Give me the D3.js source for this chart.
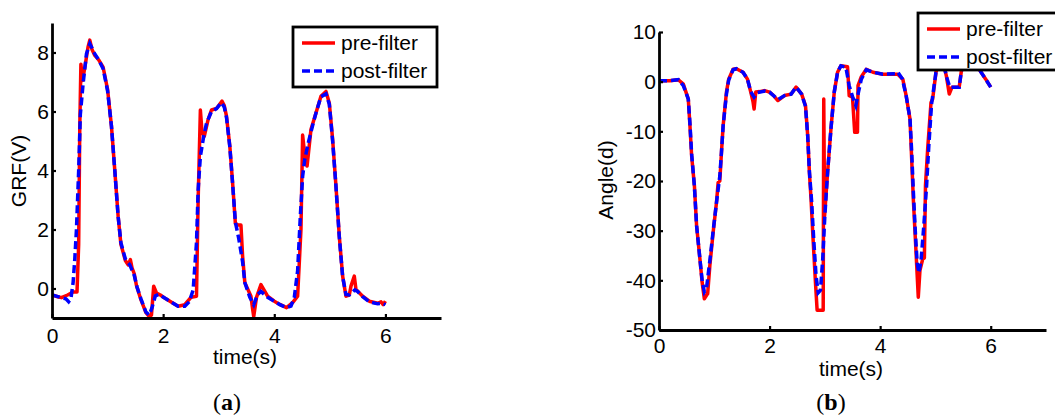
<!DOCTYPE html>
<html>
<head>
<meta charset="utf-8">
<script src="https://cdn.jsdelivr.net/npm/d3@7"></script>
<style>
  html, body { margin: 0; padding: 0; background: #fff; }
  svg { display: block; }
  text { font-family: "Liberation Sans", Arial, sans-serif; fill: #000; }
</style>
</head>
<body>
<svg id="chart" width="1055" height="415"></svg>
<script>
// ---- data: [time (s), value] ----
const grfPre = [[0,-0.22],[0.1,-0.28],[0.17,-0.31],[0.28,-0.22],[0.38,-0.12],[0.45,-0.12],[0.48,1.5],[0.5,5.5],[0.52,7.6],[0.55,7.05],[0.6,7.6],[0.65,8.2],[0.68,8.42],[0.72,8.1],[0.77,7.9],[0.84,7.75],[0.92,7.5],[1.0,6.75],[1.07,5.5],[1.13,4.0],[1.19,2.45],[1.24,1.5],[1.32,0.95],[1.37,0.8],[1.41,0.98],[1.44,0.7],[1.48,0.5],[1.52,0.1],[1.6,-0.38],[1.69,-0.82],[1.75,-0.95],[1.79,-0.9],[1.83,0.08],[1.88,-0.15],[1.95,-0.22],[2.05,-0.35],[2.18,-0.5],[2.27,-0.6],[2.39,-0.55],[2.5,-0.3],[2.6,-0.26],[2.63,3.0],[2.67,6.05],[2.7,5.3],[2.74,5.16],[2.81,5.73],[2.87,6.05],[2.96,6.1],[3.06,6.35],[3.1,6.2],[3.14,5.84],[3.2,4.82],[3.25,3.58],[3.3,2.2],[3.35,2.15],[3.4,2.15],[3.43,1.1],[3.47,0.2],[3.58,-0.26],[3.61,-0.7],[3.63,-0.95],[3.68,-0.3],[3.76,0.13],[3.88,-0.26],[4.0,-0.43],[4.1,-0.54],[4.22,-0.65],[4.33,-0.48],[4.42,-0.26],[4.48,2.0],[4.51,5.2],[4.55,4.5],[4.59,4.15],[4.66,5.39],[4.75,5.95],[4.84,6.52],[4.93,6.68],[4.99,6.29],[5.05,5.05],[5.11,3.47],[5.17,1.77],[5.23,0.42],[5.29,-0.26],[5.35,-0.22],[5.38,0.08],[5.44,0.42],[5.47,-0.03],[5.59,-0.26],[5.71,-0.43],[5.86,-0.5],[5.92,-0.45],[5.96,-0.55],[6.0,-0.43]];
const grfPost = [[0,-0.22],[0.15,-0.3],[0.25,-0.35],[0.3,-0.45],[0.34,-0.35],[0.38,0.2],[0.41,1.0],[0.44,2.0],[0.48,4.0],[0.51,5.9],[0.56,6.95],[0.62,7.95],[0.68,8.3],[0.72,8.15],[0.77,7.95],[0.84,7.75],[0.92,7.45],[1.0,6.7],[1.07,5.5],[1.13,4.0],[1.19,2.45],[1.24,1.55],[1.32,1.0],[1.4,0.8],[1.48,0.45],[1.53,0.05],[1.6,-0.35],[1.69,-0.8],[1.75,-0.9],[1.8,-0.65],[1.86,-0.25],[1.92,-0.2],[2.05,-0.35],[2.18,-0.5],[2.27,-0.6],[2.39,-0.6],[2.47,-0.45],[2.54,-0.05],[2.6,1.55],[2.63,3.35],[2.67,4.48],[2.73,5.16],[2.78,5.6],[2.87,6.0],[2.96,6.1],[3.05,6.3],[3.1,6.15],[3.14,5.8],[3.2,4.8],[3.25,3.55],[3.3,2.25],[3.36,1.7],[3.43,0.9],[3.47,0.2],[3.56,-0.3],[3.63,-0.55],[3.7,-0.2],[3.76,-0.1],[3.88,-0.3],[4.0,-0.43],[4.1,-0.55],[4.22,-0.65],[4.3,-0.6],[4.36,-0.3],[4.42,0.6],[4.47,2.5],[4.51,3.8],[4.55,4.4],[4.62,5.0],[4.7,5.6],[4.75,5.95],[4.84,6.5],[4.93,6.6],[4.99,6.25],[5.05,5.0],[5.11,3.45],[5.17,1.75],[5.23,0.4],[5.29,-0.2],[5.35,-0.22],[5.45,-0.05],[5.5,-0.1],[5.59,-0.28],[5.71,-0.45],[5.86,-0.52],[5.95,-0.5],[6.0,-0.55]];

const anglePre = [[0,0.2],[0.2,0.2],[0.35,0.4],[0.44,-0.5],[0.5,-2.5],[0.53,-3.5],[0.56,-8.9],[0.59,-14.9],[0.64,-20.9],[0.68,-29],[0.74,-35.7],[0.78,-40.4],[0.82,-43.7],[0.86,-43],[0.88,-42.7],[0.92,-37],[0.98,-30.3],[1.04,-24.3],[1.07,-20.3],[1.1,-20],[1.13,-14.2],[1.16,-8.9],[1.22,-2.1],[1.26,0.5],[1.34,2.5],[1.4,2.6],[1.52,1.9],[1.6,0.5],[1.66,-2.1],[1.7,-4],[1.72,-5.5],[1.75,-2.1],[1.82,-2.0],[1.91,-1.8],[2.0,-2.1],[2.08,-2.9],[2.15,-3.8],[2.27,-2.8],[2.39,-2.5],[2.48,-1.1],[2.58,-2.5],[2.65,-4.8],[2.69,-10.9],[2.72,-18.2],[2.75,-23.6],[2.78,-30.3],[2.83,-40.4],[2.86,-46],[2.97,-46],[2.98,-3.5],[2.995,-27],[3.05,-18.2],[3.11,-9.5],[3.17,-2.1],[3.23,1.9],[3.29,3.2],[3.35,3.1],[3.41,3.0],[3.44,-2.8],[3.5,-3.1],[3.54,-10.2],[3.59,-10.2],[3.6,-0.8],[3.66,1.0],[3.75,2.5],[3.87,1.9],[4.05,1.5],[4.32,1.5],[4.41,0.5],[4.47,-2.8],[4.54,-7.5],[4.57,-15.5],[4.6,-23.6],[4.64,-32.3],[4.67,-39],[4.69,-43.4],[4.72,-38],[4.77,-35.7],[4.8,-35.5],[4.82,-20.9],[4.86,-13.5],[4.92,-4.2],[4.95,-3.5],[5.01,1.9],[5.07,3.8],[5.15,3.5],[5.2,1.0],[5.25,-2.5],[5.3,-1.1],[5.43,-1.1],[5.47,2.2],[5.55,3.5],[5.7,3.2],[5.79,2.5],[5.91,0.5],[6.0,-1.1]];
const anglePost = [[0,0.2],[0.2,0.2],[0.35,0.4],[0.44,-0.8],[0.53,-3.5],[0.56,-8.5],[0.59,-14.5],[0.64,-21],[0.68,-29],[0.74,-35.7],[0.78,-40],[0.82,-42.3],[0.86,-41.5],[0.92,-36],[0.98,-30],[1.04,-24.3],[1.1,-19],[1.13,-14.2],[1.16,-8.9],[1.22,-2.5],[1.26,0.3],[1.34,2.4],[1.4,2.6],[1.52,1.9],[1.6,0.5],[1.66,-2.0],[1.72,-3.1],[1.78,-2.2],[1.91,-1.9],[2.0,-2.1],[2.08,-2.9],[2.15,-3.6],[2.27,-2.8],[2.39,-2.5],[2.48,-1.1],[2.58,-2.5],[2.65,-5],[2.69,-11],[2.72,-18],[2.76,-24],[2.8,-32],[2.84,-39],[2.88,-42.5],[2.92,-42],[2.96,-36],[3.0,-27],[3.05,-18.2],[3.11,-9.5],[3.17,-2.1],[3.23,1.9],[3.29,3.2],[3.38,2.9],[3.44,-0.8],[3.5,-3],[3.56,-4.8],[3.61,-2],[3.66,0.5],[3.75,2.4],[3.87,1.9],[4.05,1.5],[4.28,1.6],[4.32,1.9],[4.4,0.6],[4.47,-2.8],[4.54,-7.5],[4.57,-14],[4.6,-22],[4.64,-31],[4.67,-36.5],[4.7,-38.5],[4.74,-36],[4.79,-29],[4.84,-21],[4.88,-13],[4.93,-4.5],[5.01,1.9],[5.07,3.8],[5.15,3.5],[5.2,1.0],[5.26,-1.1],[5.43,-1.1],[5.47,2.2],[5.55,3.5],[5.7,3.2],[5.79,2.5],[5.91,0.5],[6.0,-1.1]];

const timeTicks = [0, 2, 4, 6];
const grfTicks = [0, 2, 4, 6, 8];
const angleTicks = [-50, -40, -30, -20, -10, 0, 10];
const seriesNames = ["pre-filter", "post-filter"];

const svg = d3.select("#chart");
const tickText = d => String(d);   // plain hyphen for negatives

function panel(cfg) {
  const x = d3.scaleLinear().domain(cfg.xDomain).range(cfg.xRange);
  const y = d3.scaleLinear().domain(cfg.yDomain).range(cfg.yRange);
  const g = svg.append("g");

  g.append("clipPath").attr("id", cfg.id + "-clip")
    .append("rect")
    .attr("x", cfg.xRange[0]).attr("y", cfg.yRange[1])
    .attr("width", cfg.xRange[1] - cfg.xRange[0])
    .attr("height", cfg.yRange[0] - cfg.yRange[1]);

  const line = d3.line().x(d => x(d[0])).y(d => y(d[1]));
  const plot = g.append("g").attr("clip-path", `url(#${cfg.id}-clip)`);
  plot.append("path").datum(cfg.pre).attr("d", line)
    .attr("fill", "none").attr("stroke", "#ff0000").attr("stroke-width", 3.5)
    .attr("stroke-linejoin", "round");
  plot.append("path").datum(cfg.post).attr("d", line)
    .attr("fill", "none").attr("stroke", "#0000ff").attr("stroke-width", 3.5)
    .attr("stroke-dasharray", "8,4");

  // axes: left and bottom only, ticks pointing inward
  const xAxis = g.append("g").attr("transform", `translate(0,${cfg.yRange[0]})`)
    .call(d3.axisBottom(x).tickValues(timeTicks).tickFormat(tickText)
      .tickSizeInner(-4).tickSizeOuter(0).tickPadding(cfg.xPad));
  const yAxis = g.append("g").attr("transform", `translate(${cfg.xRange[0]},0)`)
    .call(d3.axisLeft(y).tickValues(cfg.yTicks).tickFormat(tickText)
      .tickSizeInner(-4).tickSizeOuter(0).tickPadding(3));
  [xAxis, yAxis].forEach(a => {
    a.select(".domain").attr("stroke", "#000").attr("stroke-width", 2.8);
    a.selectAll(".tick line").attr("stroke", "#000").attr("stroke-width", 2.2);
    a.selectAll(".tick text").attr("font-size", 21)
      .attr("font-family", "Liberation Sans, Arial, sans-serif").attr("fill", "#000");
  });

  g.append("text").attr("x", cfg.xTitle[0]).attr("y", cfg.xTitle[1])
    .attr("text-anchor", "middle").attr("font-size", 21).text("time(s)");
  g.append("text")
    .attr("transform", `translate(${cfg.yTitle[0]},${cfg.yTitle[1]}) rotate(-90)`)
    .attr("text-anchor", "middle").attr("font-size", 21).text(cfg.yLabel);

  // panel caption
  const cap = g.append("text").attr("x", cfg.caption[0]).attr("y", cfg.caption[1])
    .attr("text-anchor", "middle").attr("font-size", 24)
    .style("font-family", "'Liberation Serif', 'Times New Roman', serif");
  cap.append("tspan").text("(");
  cap.append("tspan").attr("font-weight", "bold").text(cfg.letter);
  cap.append("tspan").text(")");

  // legend
  const L = cfg.legend;
  const lg = g.append("g");
  lg.append("rect").attr("x", L.x).attr("y", L.y).attr("width", L.w).attr("height", L.h)
    .attr("fill", "#fff").attr("stroke", "#000").attr("stroke-width", 2.8);
  seriesNames.forEach((name, i) => {
    const yy = L.y + L.rows[i];
    lg.append("line").attr("x1", L.x + 9).attr("x2", L.x + 42).attr("y1", yy).attr("y2", yy)
      .attr("stroke", i === 0 ? "#ff0000" : "#0000ff").attr("stroke-width", 3.5)
      .attr("stroke-dasharray", i === 0 ? null : "8,4");
    lg.append("text").attr("x", L.x + 48).attr("y", yy + 7).attr("font-size", 21).text(name);
  });
}

panel({
  id: "grf", letter: "a",
  xDomain: [0, 7], xRange: [52, 441],
  yDomain: [-1, 9], yRange: [318, 23],
  yTicks: grfTicks, yLabel: "GRF(V)",
  pre: grfPre, post: grfPost, xPad: 10,
  xTitle: [245, 364], yTitle: [26, 171], caption: [227, 410],
  legend: { x: 293, y: 27, w: 144, h: 60, rows: [16, 44] }
});

panel({
  id: "angle", letter: "b",
  xDomain: [0, 7], xRange: [659, 1046],
  yDomain: [-50, 10], yRange: [330, 32],
  yTicks: angleTicks, yLabel: "Angle(d)",
  pre: anglePre, post: anglePost, xPad: 8,
  xTitle: [851, 376], yTitle: [613, 180], caption: [831, 410],
  legend: { x: 918, y: 13, w: 150, h: 57, rows: [16, 44] }
});
</script>
</body>
</html>
